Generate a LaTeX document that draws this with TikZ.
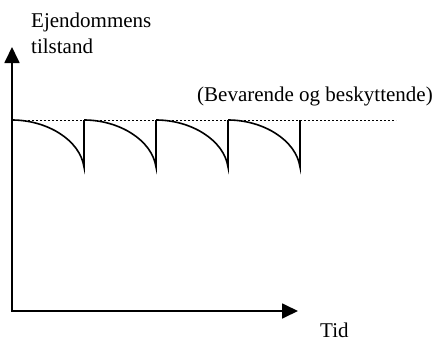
\documentclass[tikz,border=0pt]{standalone}
\usepackage{fontspec}
\setmainfont{Liberation Serif}
\usetikzlibrary{arrows.meta}
\begin{document}
\begin{tikzpicture}[x=1pt,y=-1pt,
  axis/.style={line width=1.8pt,line join=miter,{Triangle[length=16pt,width=15pt]}-{Triangle[length=16pt,width=15pt]}},
  wave/.style={line width=1.6pt},
  ref/.style={line width=0.7pt,dash pattern=on 2pt off 2pt},
  lbl/.style={inner sep=0pt,anchor=base west,font=\fontsize{21}{24}\selectfont}]
\useasboundingbox (0,0) rectangle (439,343);
\coordinate (O) at (12,311);
\coordinate (ytip) at (12,47);
\coordinate (xtip) at (298,311);
\coordinate (refL) at (12,120);
\coordinate (refR) at (396,120);
\draw[axis] (ytip) -- (O) -- (xtip);
\draw[ref] (refL) -- (refR);
\foreach \a in {12,84,156,228}{
  \draw[wave] (\a,120) .. controls (\a+35,120) and (\a+68,140) .. (\a+72,167) -- (\a+72,120);
}
\node[lbl] (ylab1) at (31,27) {Ejendommens};
\node[lbl] (ylab2) at (31,53) {tilstand};
\node[lbl] (reflab) at (197,101) {(Bevarende og beskyttende)};
\node[lbl] (xlab) at (320,337) {Tid};
\end{tikzpicture}
\end{document}
